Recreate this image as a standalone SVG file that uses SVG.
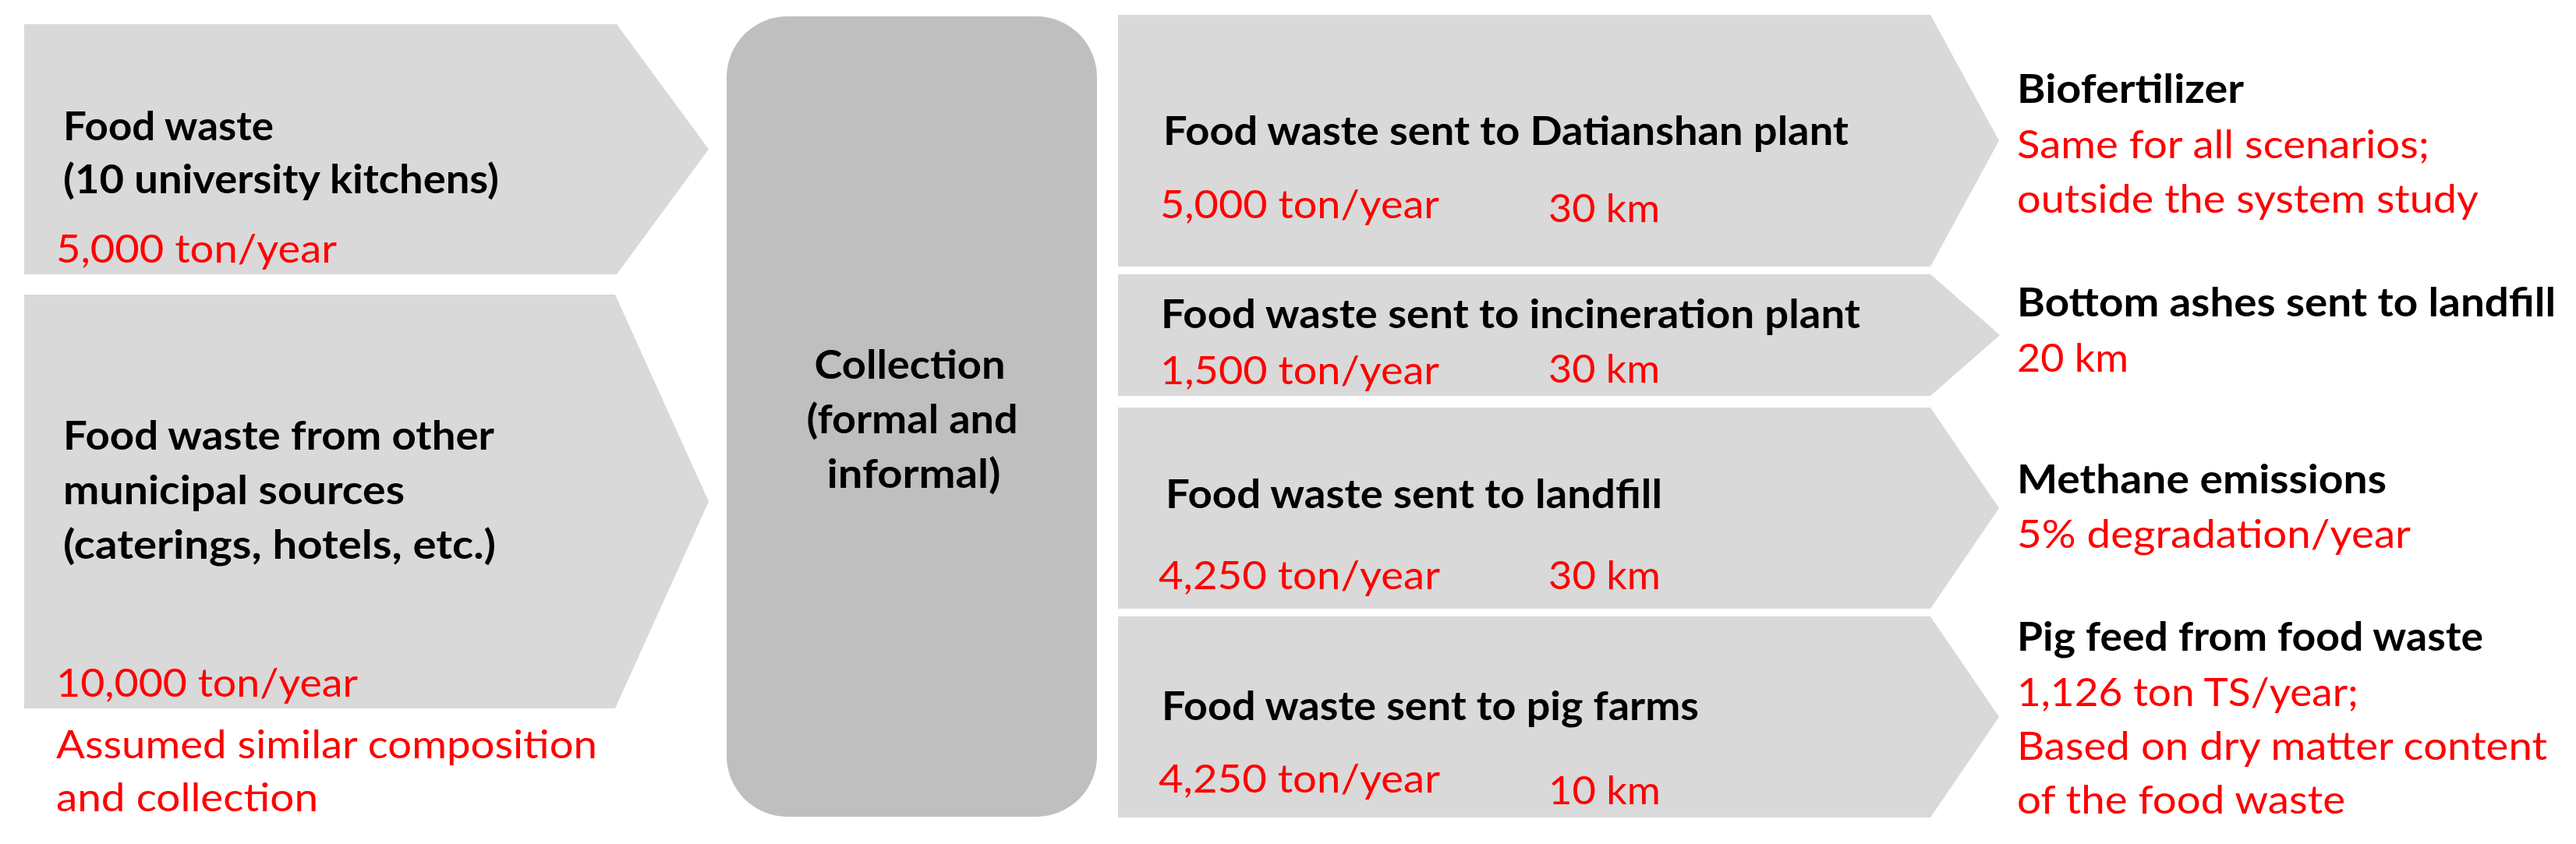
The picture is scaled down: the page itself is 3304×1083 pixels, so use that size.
<svg xmlns="http://www.w3.org/2000/svg" width="3304" height="1083" viewBox="0 0 3304 1083">
<style>
.bg{fill:#FFFFFF}
.chev{fill:#D9D9D9}
.coll{fill:#BFBFBF}
.b{font-family:Lato,"Liberation Sans",Arial,sans-serif;font-weight:bold;font-size:51px;fill:#000000}
.r{font-family:Lato,"Liberation Sans",Arial,sans-serif;font-weight:normal;font-size:51px;fill:#FF0000}
.c{text-anchor:middle}
</style>
<rect class="bg" x="0" y="0" width="3304" height="1083"/>
<g id="connectors"></g>

<g id="source-university">
<polygon class="chev" points="31,31 791,31 909,191.5 791,352 31,352"/>
<text class="b" x="81" y="180" textLength="270" lengthAdjust="spacingAndGlyphs">Food waste</text>
<text class="b" x="81" y="248" textLength="559" lengthAdjust="spacingAndGlyphs">(10 university kitchens)</text>
<text class="r" x="72" y="337" textLength="360" lengthAdjust="spacingAndGlyphs">5,000 ton/year</text>
</g>

<g id="source-municipal">
<polygon class="chev" points="31,378 789,378 909,643.5 789,909 31,909"/>
<text class="b" x="81" y="577" textLength="553" lengthAdjust="spacingAndGlyphs">Food waste from other</text>
<text class="b" x="81" y="647" textLength="438" lengthAdjust="spacingAndGlyphs">municipal sources</text>
<text class="b" x="81" y="717" textLength="555" lengthAdjust="spacingAndGlyphs">(caterings, hotels, etc.)</text>
<text class="r" x="72" y="894" textLength="387" lengthAdjust="spacingAndGlyphs">10,000 ton/year</text>
<text class="r" x="72" y="973" textLength="694" lengthAdjust="spacingAndGlyphs">Assumed similar composition</text>
<text class="r" x="72" y="1041" textLength="336" lengthAdjust="spacingAndGlyphs">and collection</text>
</g>

<g id="collection">
<rect class="coll" x="932" y="21" width="475" height="1027" rx="78" ry="78"/>
<text class="b c" x="1167" y="486" textLength="245" lengthAdjust="spacingAndGlyphs">Collection</text>
<text class="b c" x="1170" y="556" textLength="271" lengthAdjust="spacingAndGlyphs">(formal and</text>
<text class="b c" x="1172" y="626" textLength="223" lengthAdjust="spacingAndGlyphs">informal)</text>
</g>

<g id="to-datianshan">
<polygon class="chev" points="1434,19 2476,19 2564,180.5 2476,342 1434,342"/>
<text class="b" x="1492" y="186" textLength="879" lengthAdjust="spacingAndGlyphs">Food waste sent to Datianshan plant</text>
<text class="r" x="1488" y="280" textLength="358" lengthAdjust="spacingAndGlyphs">5,000 ton/year</text>
<text class="r" x="1986" y="285" textLength="143" lengthAdjust="spacingAndGlyphs">30 km</text>
</g>

<g id="to-incineration">
<polygon class="chev" points="1434,352 2476,352 2565,430 2476,508 1434,508"/>
<text class="b" x="1489" y="421" textLength="897" lengthAdjust="spacingAndGlyphs">Food waste sent to incineration plant</text>
<text class="r" x="1488" y="493" textLength="358" lengthAdjust="spacingAndGlyphs">1,500 ton/year</text>
<text class="r" x="1986" y="491" textLength="143" lengthAdjust="spacingAndGlyphs">30 km</text>
</g>

<g id="to-landfill">
<polygon class="chev" points="1434,523 2476,523 2564,652 2476,781 1434,781"/>
<text class="b" x="1495" y="652" textLength="637" lengthAdjust="spacingAndGlyphs">Food waste sent to landfill</text>
<text class="r" x="1486" y="756" textLength="361" lengthAdjust="spacingAndGlyphs">4,250 ton/year</text>
<text class="r" x="1986" y="756" textLength="144" lengthAdjust="spacingAndGlyphs">30 km</text>
</g>

<g id="to-pig-farms">
<polygon class="chev" points="1434,791 2476,791 2564,920 2476,1049 1434,1049"/>
<text class="b" x="1490" y="924" textLength="689" lengthAdjust="spacingAndGlyphs">Food waste sent to pig farms</text>
<text class="r" x="1486" y="1017" textLength="361" lengthAdjust="spacingAndGlyphs">4,250 ton/year</text>
<text class="r" x="1986" y="1032" textLength="144" lengthAdjust="spacingAndGlyphs">10 km</text>
</g>

<g id="out-biofertilizer">
<text class="b" x="2587" y="132" textLength="291" lengthAdjust="spacingAndGlyphs">Biofertilizer</text>
<text class="r" x="2587" y="203" textLength="529" lengthAdjust="spacingAndGlyphs">Same for all scenarios;</text>
<text class="r" x="2587" y="273" textLength="592" lengthAdjust="spacingAndGlyphs">outside the system study</text>
</g>

<g id="out-bottom-ashes">
<text class="b" x="2587" y="406" textLength="691" lengthAdjust="spacingAndGlyphs">Bottom ashes sent to landfill</text>
<text class="r" x="2587" y="477" textLength="143" lengthAdjust="spacingAndGlyphs">20 km</text>
</g>

<g id="out-methane">
<text class="b" x="2587" y="633" textLength="474" lengthAdjust="spacingAndGlyphs">Methane emissions</text>
<text class="r" x="2587" y="703" textLength="505" lengthAdjust="spacingAndGlyphs">5% degradation/year</text>
</g>

<g id="out-pig-feed">
<text class="b" x="2587" y="835" textLength="598" lengthAdjust="spacingAndGlyphs">Pig feed from food waste</text>
<text class="r" x="2587" y="906" textLength="438" lengthAdjust="spacingAndGlyphs">1,126 ton TS/year;</text>
<text class="r" x="2587" y="975" textLength="680" lengthAdjust="spacingAndGlyphs">Based on dry matter content</text>
<text class="r" x="2587" y="1044" textLength="421" lengthAdjust="spacingAndGlyphs">of the food waste</text>
</g>
</svg>
